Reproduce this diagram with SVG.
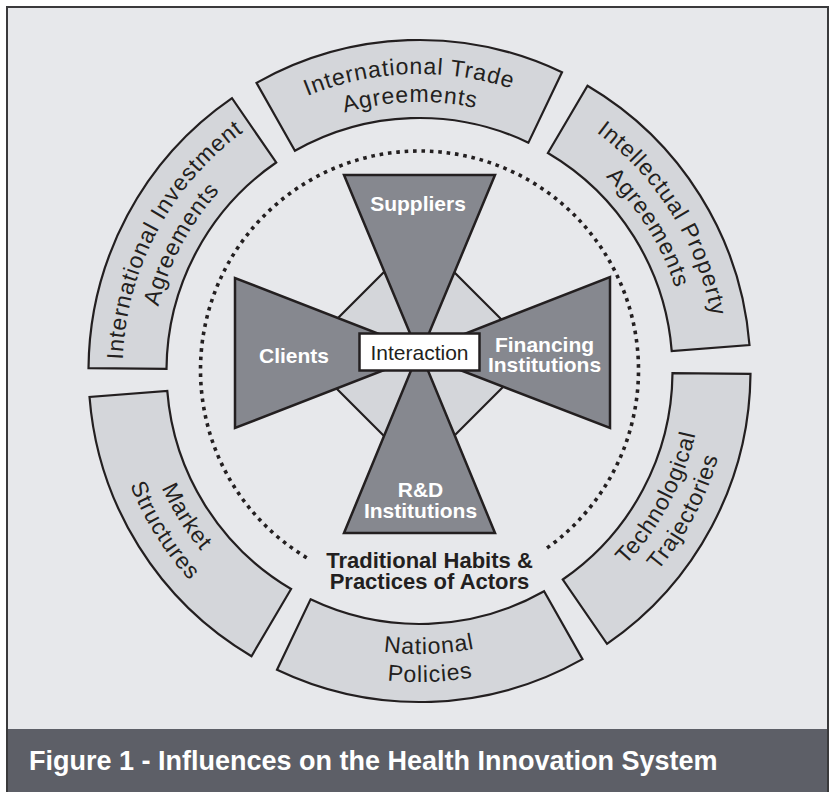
<svg xmlns="http://www.w3.org/2000/svg" xmlns:xlink="http://www.w3.org/1999/xlink" width="836" height="792" viewBox="0 0 836 792">
<style>
.seg{fill:#d4d6da;stroke:#231f20;stroke-width:2.2;stroke-linejoin:miter}
.tri{fill:#86888f;stroke:#231f20;stroke-width:2.5;stroke-linejoin:miter}
.segtxt{font-family:"Liberation Sans",Arial,sans-serif;font-size:23px;fill:#231f20;letter-spacing:0.9px}
.lbl{font-family:"Liberation Sans",Arial,sans-serif;font-size:21px;font-weight:bold;fill:#ffffff;text-anchor:middle}
.trad{font-family:"Liberation Sans",Arial,sans-serif;font-size:22px;font-weight:bold;fill:#231f20;text-anchor:middle}
.cap{font-family:"Liberation Sans",Arial,sans-serif;font-size:27px;font-weight:bold;fill:#ffffff}
</style>
<defs>
<path id="t0a" d="M 275.51 111.24 A 297 297 0 0 1 545.02 101.83"/>
<path id="t0b" d="M 289.09 135.73 A 269 269 0 0 1 533.18 127.20"/>
<path id="t1a" d="M 572.47 116.42 A 297 297 0 0 1 715.37 345.11"/>
<path id="t1b" d="M 558.05 140.42 A 269 269 0 0 1 687.47 347.55"/>
<path id="t5a" d="M 122.55 365.82 A 297 297 0 0 1 249.15 127.71"/>
<path id="t5b" d="M 150.54 366.31 A 269 269 0 0 1 265.21 150.65"/>
<path id="t2a" d="M 581.82 602.82 A 283 283 0 0 0 702.46 375.94"/>
<path id="t2b" d="M 597.88 625.76 A 311 311 0 0 0 730.45 376.43"/>
<path id="t3a" d="M 299.90 627.49 A 283 283 0 0 0 556.70 618.52"/>
<path id="t3b" d="M 288.07 652.86 A 311 311 0 0 0 570.28 643.01"/>
<path id="t4a" d="M 137.58 395.67 A 283 283 0 0 0 273.74 613.58"/>
<path id="t4b" d="M 109.68 398.11 A 311 311 0 0 0 259.32 637.58"/>
</defs>
<rect x="0" y="0" width="836" height="792" fill="#ffffff"/>
<rect x="7" y="7" width="821" height="800" fill="#e7e8eb"/>
<rect x="7" y="729" width="821" height="70" fill="#5d5f67"/>
<rect x="7" y="7" width="821" height="800" fill="none" stroke="#3a3a3c" stroke-width="2"/>

<g id="connectors">
<path d="M 306.71 557.72 A 219 219 0 1 1 545.11 549.39" fill="none" stroke="#231f20" stroke-width="3.6" stroke-dasharray="3.6 4.8"/>
</g>

<g id="seg-trade">
<path class="seg" d="M 256.51 82.91 A 331 331 0 0 1 562.00 72.24 L 528.42 142.64 A 253 253 0 0 0 294.92 150.80 Z"/>
<text class="segtxt"><textPath xlink:href="#t0a" href="#t0a" startOffset="50%" text-anchor="middle">International Trade</textPath></text>
<text class="segtxt"><textPath xlink:href="#t0b" href="#t0b" startOffset="50%" text-anchor="middle">Agreements</textPath></text>
</g>
<g id="seg-ip">
<path class="seg" d="M 587.50 85.80 A 331 331 0 0 1 749.48 345.03 L 671.72 351.15 A 253 253 0 0 0 547.91 153.01 Z"/>
<text class="segtxt"><textPath xlink:href="#t1a" href="#t1a" startOffset="50%" text-anchor="middle">Intellectual Property</textPath></text>
<text class="segtxt"><textPath xlink:href="#t1b" href="#t1b" startOffset="50%" text-anchor="middle">Agreements</textPath></text>
</g>
<g id="seg-tech">
<path class="seg" d="M 750.49 373.89 A 331 331 0 0 1 606.98 643.79 L 562.80 579.50 A 253 253 0 0 0 672.49 373.21 Z"/>
<text class="segtxt"><textPath xlink:href="#t2a" href="#t2a" startOffset="50%" text-anchor="middle">Technological</textPath></text>
<text class="segtxt"><textPath xlink:href="#t2b" href="#t2b" startOffset="50%" text-anchor="middle">Trajectories</textPath></text>
</g>
<g id="seg-national">
<path class="seg" d="M 582.49 659.09 A 331 331 0 0 1 277.00 669.76 L 310.58 599.36 A 253 253 0 0 0 544.08 591.20 Z"/>
<text class="segtxt"><textPath xlink:href="#t3a" href="#t3a" startOffset="50%" text-anchor="middle">National</textPath></text>
<text class="segtxt"><textPath xlink:href="#t3b" href="#t3b" startOffset="50%" text-anchor="middle">Policies</textPath></text>
</g>
<g id="seg-market">
<path class="seg" d="M 251.50 656.20 A 331 331 0 0 1 89.52 396.97 L 167.28 390.85 A 253 253 0 0 0 291.09 588.99 Z"/>
<text class="segtxt"><textPath xlink:href="#t4a" href="#t4a" startOffset="50%" text-anchor="middle">Market</textPath></text>
<text class="segtxt"><textPath xlink:href="#t4b" href="#t4b" startOffset="50%" text-anchor="middle">Structures</textPath></text>
</g>
<g id="seg-investment">
<path class="seg" d="M 88.51 368.11 A 331 331 0 0 1 232.02 98.21 L 276.20 162.50 A 253 253 0 0 0 166.51 368.79 Z"/>
<text class="segtxt"><textPath xlink:href="#t5a" href="#t5a" startOffset="50%" text-anchor="middle">International Investment</textPath></text>
<text class="segtxt"><textPath xlink:href="#t5b" href="#t5b" startOffset="50%" text-anchor="middle">Agreements</textPath></text>
</g>

<g id="diamond">
<polygon points="419,237 536,354 419,471 302,354" fill="#d4d6da" stroke="#231f20" stroke-width="2.2"/>
</g>
<g id="suppliers">
<polygon class="tri" points="344,175 495,175 419.5,356"/>
<text class="lbl" x="418" y="211">Suppliers</text>
</g>
<g id="rnd">
<polygon class="tri" points="344,533 495,533 419.5,350"/>
<text class="lbl" x="420.5" y="497">R&amp;D</text>
<text class="lbl" x="420.5" y="518">Institutions</text>
</g>
<g id="clients">
<polygon class="tri" points="235,278 235,428 428,353"/>
<text class="lbl" x="294" y="363">Clients</text>
</g>
<g id="financing">
<polygon class="tri" points="610,277 610,428 416,353"/>
<text class="lbl" x="544.5" y="352">Financing</text>
<text class="lbl" x="544.5" y="372">Institutions</text>
</g>
<g id="interaction">
<rect x="359.5" y="333.5" width="120" height="37" fill="#ffffff" stroke="#231f20" stroke-width="2.5"/>
<text x="419.5" y="359.5" text-anchor="middle" font-family="Liberation Sans, Arial, sans-serif" font-size="21" fill="#231f20">Interaction</text>
</g>
<g id="traditional">
<text class="trad" x="429.5" y="568">Traditional Habits &amp;</text>
<text class="trad" x="429.5" y="589">Practices of Actors</text>
</g>
<g id="caption">
<text class="cap" x="29" y="770">Figure 1 - Influences on the Health Innovation System</text>
</g>
</svg>
